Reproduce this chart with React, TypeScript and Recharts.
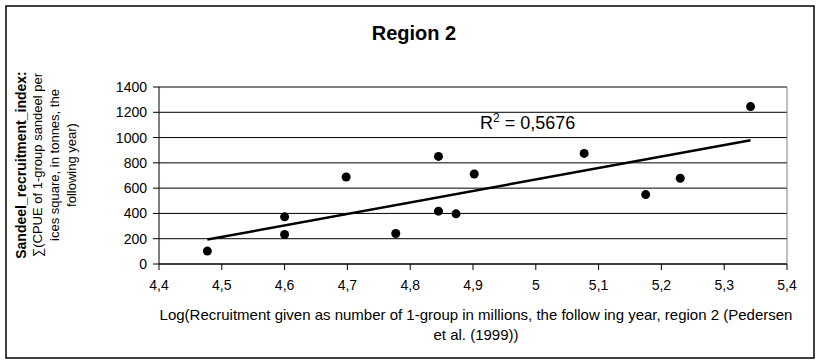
import React from 'react';
import { CartesianGrid, ReferenceLine, Scatter, ScatterChart, XAxis, YAxis } from 'recharts';

// log recruitment (x) vs sandeel recruitment index (y)
const logRecruitment = [4.477, 4.6, 4.6, 4.698, 4.777, 4.845, 4.845, 4.873, 4.902, 5.077, 5.175, 5.23, 5.342];
const recruitmentIndex = [102, 373, 233, 688, 241, 851, 418, 397, 712, 875, 549, 678, 1245];

// ends of the fitted line drawn by the spreadsheet
const trendX = [4.477, 5.342];
const trendY = [193, 979];

const xTicks = [4.4, 4.5, 4.6, 4.7, 4.8, 4.9, 5, 5.1, 5.2, 5.3, 5.4];
const yTicks = [0, 200, 400, 600, 800, 1000, 1200, 1400];

const points = logRecruitment.map((x, i) => ({ x, y: recruitmentIndex[i] }));
const trend = trendX.map((x, i) => ({ x, y: trendY[i] }));

const FONT = 'Arial, "Liberation Sans", sans-serif';

const fmtX = (v: number) => (Number.isInteger(v) ? String(v) : v.toFixed(1).replace('.', ','));

const Dot = (props: any) => <circle cx={props.cx} cy={props.cy} r={4.5} fill='#000' />;

export default function App() {
  return (
    <div style={{ position: 'absolute', left: 0, top: 0, width: 823, height: 361, background: '#fff', fontFamily: FONT }}>
      <ScatterChart width={823} height={361} margin={{ top: 87, right: 36, bottom: 67, left: 99 }}>
        <CartesianGrid vertical={false} stroke='#000' strokeWidth={1} />
        <XAxis
          type='number'
          dataKey='x'
          domain={[4.4, 5.4]}
          ticks={xTicks}
          tickFormatter={fmtX}
          height={30}
          tickSize={6}
          tickMargin={10}
          stroke='#000'
          tick={{ fill: '#000', fontSize: 14, fontFamily: FONT }}
          allowDataOverflow
        />
        <YAxis
          type='number'
          dataKey='y'
          domain={[0, 1400]}
          ticks={yTicks}
          width={60}
          tickSize={6}
          tickMargin={6}
          stroke='#000'
          tick={{ fill: '#000', fontSize: 14, fontFamily: FONT }}
          allowDataOverflow
        />
        <ReferenceLine y={1400} stroke='#808080' />
        <ReferenceLine x={5.4} stroke='#808080' />
        <Scatter data={trend} line={{ stroke: '#000', strokeWidth: 2.5 }} shape={() => null} isAnimationActive={false} />
        <Scatter data={points} shape={Dot} isAnimationActive={false} />
      </ScatterChart>
      <svg width={823} height={361} style={{ position: 'absolute', left: 0, top: 0, pointerEvents: 'none' }} fontFamily={FONT}>
        <rect x={6} y={6} width={808} height={352} fill='none' stroke='#000' strokeWidth={1.5} />
        <text x={414} y={40} textAnchor='middle' fontSize={20} fontWeight='bold' fill='#000'>Region 2</text>
        <text x={480} y={129} fontSize={18} fill='#000'>
          R<tspan fontSize={12} dy={-7}>2</tspan><tspan dy={7}> = 0,5676</tspan>
        </text>
        <g transform='translate(0,165) rotate(-90)' fontSize={13} fill='#000' textAnchor='middle'>
          <text x={0} y={26} fontSize={14} fontWeight='bold'>Sandeel_recruitment_index:</text>
          <text x={0} y={42}>∑(CPUE of 1-group sandeel per</text>
          <text x={0} y={59}>ices square, in tonnes, the</text>
          <text x={0} y={76}>following year)</text>
        </g>
        <g fontSize={15} fill='#000' textAnchor='middle'>
          <text x={476} y={320}>Log(Recruitment given as number of 1-group in millions, the follow ing year, region 2 (Pedersen</text>
          <text x={476} y={340}>et al. (1999))</text>
        </g>
      </svg>
    </div>
  );
}
